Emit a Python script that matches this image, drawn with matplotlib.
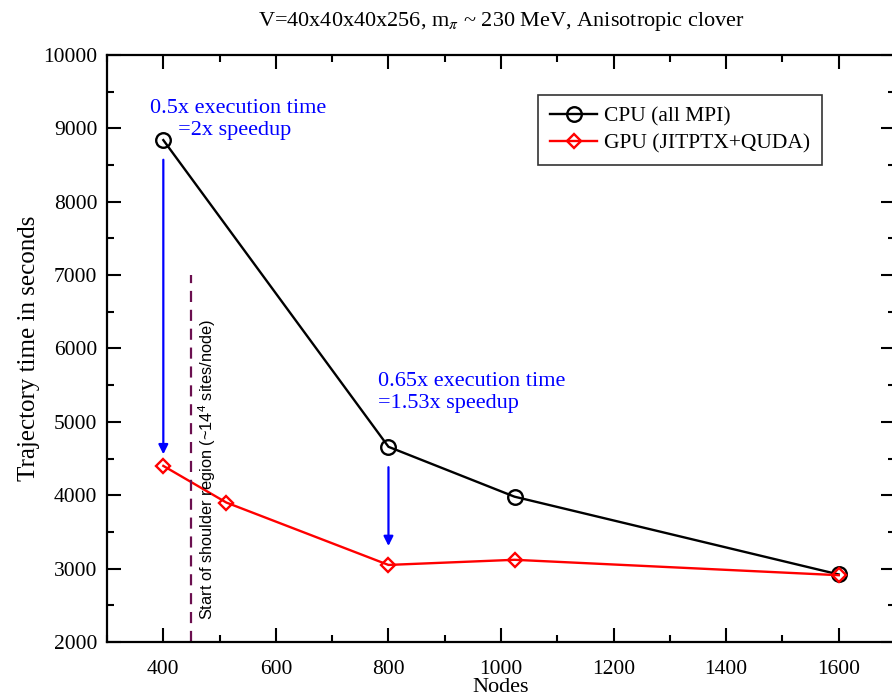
#!/usr/bin/env python3
import matplotlib

matplotlib.use("Agg")
import matplotlib.pyplot as plt

nodes_cpu = [400, 800, 1024, 1600]
time_cpu = [8840, 4660, 3980, 2920]

nodes_gpu = [400, 512, 800, 1024, 1600]
time_gpu = [4400, 3900, 3050, 3120, 2910]

shoulder_x = 450
shoulder_top = 7000

plt.rcParams["font.family"] = ["Liberation Serif", "DejaVu Serif"]
plt.rcParams["mathtext.fontset"] = "stix"


def main():
    fig = plt.figure(figsize=(8.92, 6.95), dpi=100)
    ax = fig.add_axes([0.12, 0.0763, 0.8834, 0.8446])

    ax.plot(nodes_cpu, time_cpu, "-o", color="black", lw=1.7, ms=10.5,
            mfc="none", mew=1.7, label="CPU (all MPI)")
    ax.plot(nodes_gpu, time_gpu, "-D", color="red", lw=1.7, ms=7.5,
            mfc="none", mew=1.7, label="GPU (JITPTX+QUDA)")

    # shoulder marker
    ax.plot([shoulder_x, shoulder_x], [2000, shoulder_top], ls=(0, (5, 3.5)),
            color="#6b0f4f", lw=1.6)
    ax.text(shoulder_x + 26, 2300, r"Start of shoulder region (~14$^{\mathregular{4}}$ sites/node)",
            rotation=90, ha="center", va="bottom", fontsize=11.8,
            family=["Liberation Sans", "DejaVu Sans"])

    # speedup arrows
    arrow = dict(arrowstyle="-|>", color="blue", lw=1.6, mutation_scale=14)
    ax.annotate("", xy=(400, 4520), xytext=(400, 8610), arrowprops=arrow)
    ax.annotate("", xy=(800, 3270), xytext=(800, 4420), arrowprops=arrow)

    ax.text(376, 9120, "0.5x execution time\n     =2x speedup", color="blue",
            fontsize=16, ha="left", va="center", linespacing=1.15)
    ax.text(782, 5400, "0.65x execution time\n=1.53x speedup", color="blue",
            fontsize=16, ha="left", va="center", linespacing=1.15)

    ax.set_xlim(300, 1700)
    ax.set_ylim(2000, 10000)
    ax.set_xticks(range(400, 1601, 200))
    ax.set_xticks(range(300, 1701, 100), minor=True)
    ax.set_yticks(range(2000, 10001, 1000))
    ax.set_yticks(range(2000, 10001, 500), minor=True)
    ax.tick_params(which="both", direction="in", top=True, right=True,
                   width=1.5, labelsize=15.5)
    ax.tick_params(which="major", length=10, pad=7)
    ax.tick_params(axis="x", which="major", pad=13)
    ax.tick_params(which="minor", length=5)
    for s in ax.spines.values():
        s.set_linewidth(1.6)

    ax.set_xlabel("Nodes", fontsize=16, labelpad=-1)
    ax.set_ylabel("Trajectory time in seconds", fontsize=18, labelpad=2)
    ax.set_title(r"V=40x40x40x256, m$_\pi$ ~ 230 MeV, Anisotropic clover",
                 fontsize=16, pad=21)

    leg = ax.legend(loc="upper right", bbox_to_anchor=(0.907, 0.932),
                    borderaxespad=0, fancybox=False, fontsize=15.5,
                    handlelength=2.2, handletextpad=0.3, borderpad=0.55,
                    labelspacing=0.3, framealpha=1)
    leg.get_frame().set_edgecolor("#333333")
    leg.get_frame().set_linewidth(1.2)

    fig.savefig("out.png", dpi=100)


if __name__ == "__main__":
    main()
